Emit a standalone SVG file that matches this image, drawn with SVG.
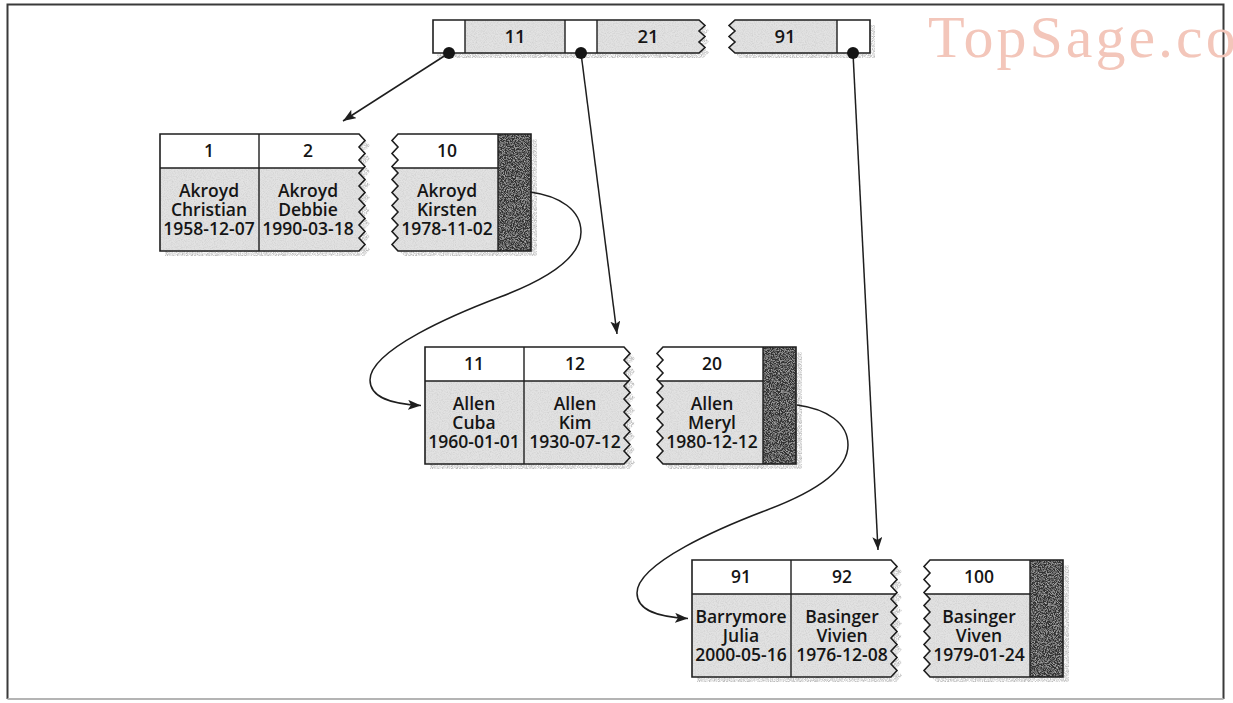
<svg xmlns="http://www.w3.org/2000/svg" xmlns:xlink="http://www.w3.org/1999/xlink" width="1233" height="703" viewBox="0 0 1233 703">
<defs>
<style>
.t{font-family:"Open Sans","Liberation Sans",sans-serif;font-size:17.5px;font-weight:600;fill:#151515;text-anchor:middle}
.ol{fill:none;stroke:#1e1e1e;stroke-width:1.6}
.ln{stroke:#1e1e1e;stroke-width:1.4}
.body{fill:#e2e2e2;filter:url(#grain)}
.hdr{fill:#ffffff}
.dark{fill:#303030;filter:url(#dgrain)}
.shd{fill:#8c8c8c;filter:url(#speck)}
.con{fill:none;stroke:#1e1e1e;stroke-width:1.5;marker-end:url(#ah)}
.dot{fill:#141414}
</style>
<filter id="grain" x="0" y="0" width="100%" height="100%">
<feTurbulence type="fractalNoise" baseFrequency="0.9" numOctaves="2" seed="5" result="n"/>
<feColorMatrix in="n" type="matrix" values="0 0 0 0 0.55  0 0 0 0 0.55  0 0 0 0 0.55  0 0 0 1.3 -0.52" result="g"/>
<feComposite in="g" in2="SourceGraphic" operator="in" result="gc"/>
<feMerge><feMergeNode in="SourceGraphic"/><feMergeNode in="gc"/></feMerge>
</filter>
<filter id="dgrain" x="0" y="0" width="100%" height="100%">
<feTurbulence type="fractalNoise" baseFrequency="1.1" numOctaves="2" seed="8" result="n"/>
<feColorMatrix in="n" type="matrix" values="0 0 0 0 0.75  0 0 0 0 0.75  0 0 0 0 0.75  0 0 0 1.4 -0.58" result="g"/>
<feComposite in="g" in2="SourceGraphic" operator="in" result="gc"/>
<feMerge><feMergeNode in="SourceGraphic"/><feMergeNode in="gc"/></feMerge>
</filter>
<filter id="speck" x="-5%" y="-5%" width="110%" height="110%">
<feTurbulence type="fractalNoise" baseFrequency="1.2" numOctaves="1" seed="2" result="n"/>
<feColorMatrix in="n" type="matrix" values="0 0 0 0 0.5  0 0 0 0 0.5  0 0 0 0 0.5  0 0 0 2.4 -0.75" result="g"/>
<feComposite in="g" in2="SourceAlpha" operator="in"/>
</filter>
<marker id="ah" markerUnits="userSpaceOnUse" markerWidth="14" markerHeight="10" refX="13" refY="5" orient="auto" viewBox="0 0 14 10">
<path d="M0,0 L13,5 L0,10 L3,5 Z" fill="#1e1e1e"/>
</marker>
<path id="p1" d="M0,0 H199 L205,6.5 L199,13 L205,19.5 L199,26 L205,32.5 L199,39 L205,45.5 L199,52 L205,58.5 L199,65 L205,71.5 L199,78 L205,84.5 L199,91 L205,97.5 L199,104 L205,110.5 L199,117 H0 Z"/>
<path id="p2" d="M238,0 H371 V117 H238 L232,110.5 L238,104 L232,97.5 L238,91 L232,84.5 L238,78 L232,71.5 L238,65 L232,58.5 L238,52 L232,45.5 L238,39 L232,32.5 L238,26 L232,19.5 L238,13 L232,6.5 Z"/>
<path id="tA" d="M433,20 H699 L705,25.5 L699,31 L705,36.5 L699,42 L705,47.5 L699,53 H433 Z"/>
<path id="tB" d="M735,20 H870 V53 H735 L729,47.5 L735,42 L729,36.5 L735,31 L729,25.5 Z"/>
<clipPath id="c1"><use href="#p1"/></clipPath>
<clipPath id="c2"><use href="#p2"/></clipPath>
<g id="leafFrame">
<use href="#p1" class="shd" transform="translate(5,5)"/>
<use href="#p2" class="shd" transform="translate(6,5)"/>
<use href="#p1" class="body"/>
<use href="#p2" class="body"/>
<rect class="hdr" x="0" y="0" width="210" height="34" clip-path="url(#c1)"/>
<rect class="hdr" x="225" y="0" width="120" height="34" clip-path="url(#c2)"/>
<rect class="dark" x="338" y="0" width="33" height="117"/>
<line class="ln" x1="0" y1="34" x2="207" y2="34" clip-path="url(#c1)"/>
<line class="ln" x1="225" y1="34" x2="338" y2="34" clip-path="url(#c2)"/>
<line class="ln" x1="99" y1="0" x2="99" y2="117"/>
<line class="ln" x1="338" y1="0" x2="338" y2="117"/>
<use href="#p1" class="ol"/>
<use href="#p2" class="ol"/>
</g>
</defs>

<rect x="0" y="0" width="1233" height="703" fill="#ffffff"/>

<g id="frame">
<path d="M7.5,699 V4.5 H1223.5 V699" fill="none" stroke="#3a3a3a" stroke-width="2"/>
<line x1="7.5" y1="699" x2="1223.5" y2="699" stroke="#b4b4b4" stroke-width="2"/>
</g>

<g id="watermark">
<text x="928" y="57" font-family="Liberation Serif, serif" font-size="60" letter-spacing="3" fill="#f3c6ba">TopSage.co</text>
</g>

<g id="root">
<use href="#tA" class="shd" transform="translate(4,5)"/>
<use href="#tB" class="shd" transform="translate(5,5)"/>
<use href="#tA" class="body"/>
<use href="#tB" class="body"/>
<rect class="hdr" x="433" y="20" width="32" height="33"/>
<rect class="hdr" x="565" y="20" width="32" height="33"/>
<rect class="hdr" x="837" y="20" width="33" height="33"/>
<line class="ln" x1="465" y1="20" x2="465" y2="53"/>
<line class="ln" x1="565" y1="20" x2="565" y2="53"/>
<line class="ln" x1="597" y1="20" x2="597" y2="53"/>
<line class="ln" x1="837" y1="20" x2="837" y2="53"/>
<use href="#tA" class="ol"/>
<use href="#tB" class="ol"/>
<text class="t" x="515" y="43" style="font-size:18.5px">11</text>
<text class="t" x="648" y="43" style="font-size:18.5px">21</text>
<text class="t" x="785" y="43" style="font-size:18.5px">91</text>
</g>

<g id="leaf1" transform="translate(160,134)">
<use href="#leafFrame"/>
<text class="t" x="49" y="23">1</text>
<text class="t" x="148" y="23">2</text>
<text class="t" x="287" y="23">10</text>
<text class="t"><tspan x="49" y="63">Akroyd</tspan><tspan x="49" dy="19">Christian</tspan><tspan x="49" dy="19">1958-12-07</tspan></text>
<text class="t"><tspan x="148" y="63">Akroyd</tspan><tspan x="148" dy="19">Debbie</tspan><tspan x="148" dy="19">1990-03-18</tspan></text>
<text class="t"><tspan x="287" y="63">Akroyd</tspan><tspan x="287" dy="19">Kirsten</tspan><tspan x="287" dy="19">1978-11-02</tspan></text>
</g>

<g id="leaf2" transform="translate(425,347)">
<use href="#leafFrame"/>
<text class="t" x="49" y="23">11</text>
<text class="t" x="150" y="23">12</text>
<text class="t" x="287" y="23">20</text>
<text class="t"><tspan x="49" y="63">Allen</tspan><tspan x="49" dy="19">Cuba</tspan><tspan x="49" dy="19">1960-01-01</tspan></text>
<text class="t"><tspan x="150" y="63">Allen</tspan><tspan x="150" dy="19">Kim</tspan><tspan x="150" dy="19">1930-07-12</tspan></text>
<text class="t"><tspan x="287" y="63">Allen</tspan><tspan x="287" dy="19">Meryl</tspan><tspan x="287" dy="19">1980-12-12</tspan></text>
</g>

<g id="leaf3" transform="translate(692,560)">
<use href="#leafFrame"/>
<text class="t" x="49" y="23">91</text>
<text class="t" x="150" y="23">92</text>
<text class="t" x="287" y="23">100</text>
<text class="t"><tspan x="49" y="63">Barrymore</tspan><tspan x="49" dy="19">Julia</tspan><tspan x="49" dy="19">2000-05-16</tspan></text>
<text class="t"><tspan x="150" y="63">Basinger</tspan><tspan x="150" dy="19">Vivien</tspan><tspan x="150" dy="19">1976-12-08</tspan></text>
<text class="t"><tspan x="287" y="63">Basinger</tspan><tspan x="287" dy="19">Viven</tspan><tspan x="287" dy="19">1979-01-24</tspan></text>
</g>

<g id="connectors">
<line class="con" x1="449" y1="53" x2="343" y2="121"/>
<line class="con" x1="581" y1="53" x2="617" y2="334"/>
<line class="con" x1="853" y1="53" x2="878" y2="550"/>
<path class="con" d="M530,192 C560,196 581,210 581,232 C581,258 545,280 500,297 C455,314 370,350 370,380 C370,398 392,404 421,405.5"/>
<path class="con" d="M797,405 C827,409 848,423 848,445 C848,471 812,493 767,510 C722,527 637,563 637,593 C637,611 659,617 688,618.5"/>
<circle class="dot" cx="449" cy="53" r="6"/>
<circle class="dot" cx="581" cy="53" r="6"/>
<circle class="dot" cx="853" cy="53" r="6"/>
</g>
</svg>
